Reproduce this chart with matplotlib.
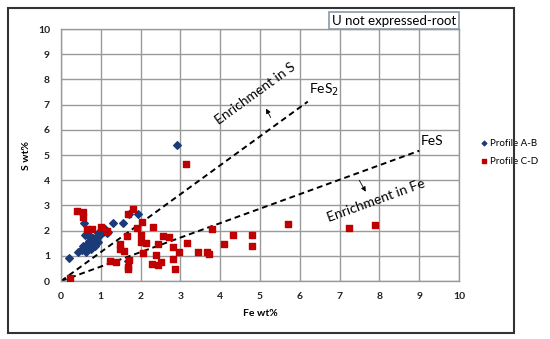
import matplotlib.pyplot as plt
from matplotlib.patches import Rectangle

plt.rcParams['font.family'] = ['Lato', 'DejaVu Sans']

# --- data ---
ab_fe = [0.20, 0.42, 0.52, 0.52, 0.56, 0.58, 0.60, 0.63, 0.63, 0.67, 0.71, 0.71,
         0.73, 0.75, 0.77, 0.79, 0.81, 0.84, 0.85, 0.90, 0.92, 0.94, 0.98, 1.02,
         1.06, 1.11, 1.15, 1.19, 1.31, 1.56, 1.68, 1.71, 1.94, 2.92]
ab_s = [0.92, 1.16, 1.27, 1.23, 1.39, 2.31, 1.83, 1.43, 1.16, 1.39, 1.80, 1.59,
        1.79, 1.26, 1.56, 1.67, 1.72, 1.43, 1.39, 1.76, 1.56, 1.89, 1.84, 1.93,
        1.96, 2.05, 1.89, 1.96, 2.31, 2.31, 0.78, 2.67, 2.66, 5.40]

cd_fe = [0.23, 0.41, 0.56, 0.56, 0.64, 0.79, 1.00, 1.16, 1.22, 1.37, 1.49, 1.49,
         1.59, 1.66, 1.68, 1.69, 1.69, 1.71, 1.81, 1.92, 2.00, 2.01, 2.04, 2.07,
         2.13, 2.28, 2.31, 2.38, 2.43, 2.44, 2.51, 2.55, 2.70, 2.82, 2.82, 2.87,
         2.97, 3.15, 3.17, 3.44, 3.66, 3.71, 3.79, 4.10, 4.32, 4.79, 4.80, 5.70,
         7.23, 7.90]
cd_s = [0.11, 2.79, 2.75, 2.55, 2.08, 2.06, 2.13, 2.00, 0.81, 0.74, 1.47, 1.28,
        1.20, 1.79, 0.57, 2.66, 0.46, 0.83, 2.85, 2.09, 1.81, 1.56, 2.35, 1.10,
        1.52, 0.66, 2.16, 1.03, 0.65, 1.47, 0.76, 1.77, 1.76, 1.34, 0.87, 0.46,
        1.15, 4.63, 1.50, 1.16, 1.16, 1.07, 2.06, 1.46, 1.84, 1.84, 1.40, 2.25,
        2.12, 2.22]

# stoichiometric reference lines
fes2_fe = [0, 6.2]
fes2_s = [0, 7.12]
fes_fe = [0, 9.0]
fes_s = [0, 5.17]

ticks = list(range(0, 11))

fig = plt.figure(figsize=(5.5, 3.39), dpi=100)
ax = fig.add_axes([0.111, 0.171, 0.7236, 0.7434])

# outer frame
fig.patches.append(Rectangle((0.0145, 0.018), 0.92, 0.959, transform=fig.transFigure,
                             fill=False, edgecolor='#333333', linewidth=1.5))

ax.grid(True, color='#9a9a9a', linewidth=1.0)
ax.set_axisbelow(True)
for sp in ax.spines.values():
    sp.set_color('#9a9a9a')
    sp.set_linewidth(1.0)

ax.plot(fes2_fe, fes2_s, color='black', linestyle=(0, (3, 2)), linewidth=1.4, zorder=2)
ax.plot(fes_fe, fes_s, color='black', linestyle=(0, (3, 2)), linewidth=1.4, zorder=2)

ax.scatter(ab_fe, ab_s, marker='D', s=15, color='#1b3a78', label='Profile A-B', zorder=3)
ax.scatter(cd_fe, cd_s, marker='s', s=20, color='#c00000', label='Profile C-D', zorder=3)

ax.set_xlim(0, 10)
ax.set_ylim(0, 10)
ax.set_xticks(ticks)
ax.set_yticks(ticks)
ax.tick_params(length=0, labelsize=7.5, pad=8)
for lb in ax.get_xticklabels() + ax.get_yticklabels():
    lb.set_fontweight('bold')
    lb.set_color('#222222')
ax.set_xlabel('Fe wt%', fontsize=7.5, fontweight='bold', labelpad=6)
ax.set_ylabel('S wt%', fontsize=7.5, fontweight='bold', labelpad=5)

# annotations
ax.text(6.22, 7.25, 'FeS$_2$', fontsize=10, ha='left', va='bottom')
ax.text(9.05, 5.3, 'FeS', fontsize=10, ha='left', va='bottom')
ax.text(4.87, 7.45, 'Enrichment in S', fontsize=10, rotation=36,
        ha='center', va='center', rotation_mode='anchor')
ax.text(7.91, 3.21, 'Enrichment in Fe', fontsize=10, rotation=20,
        ha='center', va='center', rotation_mode='anchor')
ax.annotate('', xy=(5.12, 6.94), xytext=(5.30, 6.39),
            arrowprops=dict(arrowstyle='-|>', color='black', lw=0.6, mutation_scale=7))
ax.annotate('', xy=(7.69, 3.45), xytext=(7.46, 4.09),
            arrowprops=dict(arrowstyle='-|>', color='black', lw=0.6, mutation_scale=7))

# title box
fig.patches.append(Rectangle((0.598, 0.9145), 0.2365, 0.0501, transform=fig.transFigure,
                             facecolor='white', edgecolor='#8a9aa8', linewidth=1.2))
fig.text(0.7163, 0.9395, 'U not expressed-root', fontsize=9.5, ha='center', va='center')

leg = ax.legend(loc='upper left', bbox_to_anchor=(1.04, 0.58), frameon=False,
                fontsize=7, handletextpad=0.1, labelspacing=0.9, borderaxespad=0,
                handlelength=1.0, markerscale=0.6)

fig.savefig('out.png', dpi=100)
